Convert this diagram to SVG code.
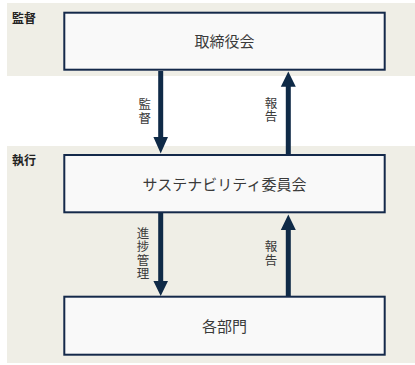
<svg xmlns="http://www.w3.org/2000/svg" width="415" height="365" viewBox="0 0 415 365">
<style>
.band{fill:#efeee6}
.box{fill:#f9f9f9;stroke:#14294a;stroke-width:2}
.arr{fill:#0f2a47}
.t{font-family:"Noto Sans CJK JP","Noto Sans",sans-serif;fill:#3a3a3a}
.bt{font-size:15px;text-anchor:middle}
.lt{font-size:12.5px;writing-mode:vertical-rl;letter-spacing:1px}
.hd{font-family:"Noto Sans CJK JP","Noto Sans",sans-serif;font-size:12px;font-weight:bold;fill:#222}
</style>
<rect width="415" height="365" fill="#ffffff"/>
<g id="band-supervision">
<rect class="band" x="7" y="3" width="408" height="73"/>
<text class="hd" x="12" y="23">監督</text>
</g>
<g id="band-execution">
<rect class="band" x="7" y="146" width="408" height="217"/>
<text class="hd" x="12" y="165">執行</text>
</g>
<g id="connectors">
<polygon class="arr" points="158.2,71 163.2,71 163.2,137 168,137 160.7,153.5 153.4,137 158.2,137"/>
<polygon class="arr" points="285.8,154 290.8,154 290.8,86.7 295.8,86.7 288.3,71.5 280.8,86.7 285.8,86.7"/>
<polygon class="arr" points="158.2,213 163.2,213 163.2,281 168,281 160.7,296 153.4,281 158.2,281"/>
<polygon class="arr" points="285.8,296 290.8,296 290.8,230 295.8,230 288.3,214.5 280.8,230 285.8,230"/>
<text class="t lt" x="144.7" y="98">監督</text>
<text class="t lt" x="271" y="96.5">報告</text>
<text class="t lt" x="143" y="226.5">進捗管理</text>
<text class="t lt" x="271" y="240">報告</text>
</g>
<g id="node-board">
<rect class="box" x="64.3" y="12.7" width="320.4" height="57"/>
<text class="t bt" x="224.5" y="46.8">取締役会</text>
</g>
<g id="node-committee">
<rect class="box" x="64.3" y="155" width="320.4" height="57.3"/>
<text class="t bt" x="224.5" y="190">サステナビリティ委員会</text>
</g>
<g id="node-departments">
<rect class="box" x="64.3" y="296.7" width="320.4" height="58"/>
<text class="t bt" x="224.5" y="331.7">各部門</text>
</g>
</svg>
